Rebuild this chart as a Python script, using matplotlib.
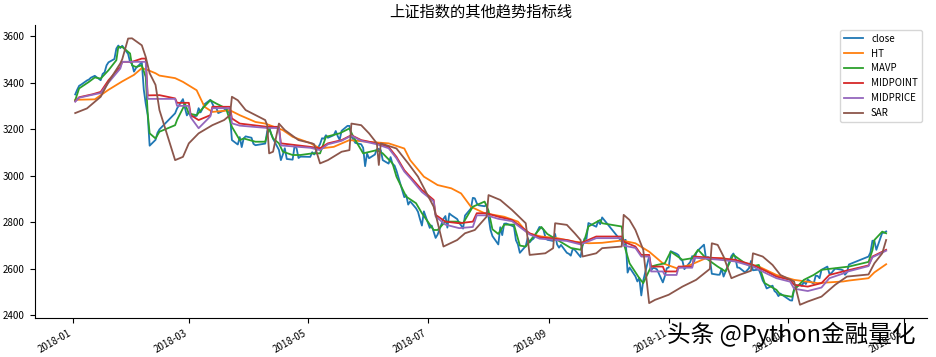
import pandas as pd
import matplotlib
matplotlib.use('Agg')
import matplotlib.pyplot as plt
import matplotlib.dates as mdates

plt.rcParams['font.family'] = ['Noto Sans CJK SC', 'DejaVu Sans']
plt.rcParams['axes.unicode_minus'] = False

# trading days of the Shanghai exchange, 2018-01-02 .. 2019-02-20
holidays = ['2018-02-15', '2018-02-16', '2018-02-19', '2018-02-20', '2018-02-21',
            '2018-04-05', '2018-04-06', '2018-04-30', '2018-05-01', '2018-06-18',
            '2018-09-24', '2018-10-01', '2018-10-02', '2018-10-03', '2018-10-04',
            '2018-10-05', '2018-12-31', '2019-01-01', '2019-02-04', '2019-02-05',
            '2019-02-06', '2019-02-07', '2019-02-08']

close = [
    # 2018-01
    3349, 3369, 3386, 3391, 3409, 3413, 3421, 3425, 3429, 3410, 3437, 3444, 3474, 3487,
    3501, 3546, 3559, 3548, 3558, 3523, 3488, 3481,
    # 2018-02
    3447, 3462, 3487, 3370, 3309, 3262, 3129, 3154, 3184, 3199, 3268, 3289, 3329, 3292, 3259,
    # 2018-03
    3273, 3254, 3257, 3290, 3272, 3288, 3307, 3326, 3310, 3291, 3292, 3269, 3280, 3290,
    3281, 3263, 3153, 3134, 3166, 3123, 3160, 3169,
    # 2018-04
    3163, 3137, 3131, 3138, 3190, 3208, 3180, 3159, 3111, 3067, 3091, 3118, 3072, 3069,
    3129, 3118, 3076, 3082,
    # 2018-05
    3081, 3101, 3091, 3136, 3161, 3159, 3174, 3163, 3174, 3192, 3170, 3154, 3193, 3214,
    3214, 3169, 3155, 3141, 3135, 3120, 3041, 3095,
    # 2018-06
    3075, 3091, 3114, 3115, 3110, 3067, 3052, 3080, 3050, 3044, 3022, 2908, 2916, 2876,
    2890, 2860, 2845, 2814, 2786, 2847,
    # 2018-07
    2776, 2786, 2759, 2733, 2747, 2815, 2827, 2777, 2838, 2831, 2814, 2798, 2787, 2773,
    2829, 2859, 2905, 2903, 2882, 2873, 2869, 2876,
    # 2018-08
    2824, 2768, 2741, 2705, 2779, 2745, 2794, 2795, 2785, 2781, 2723, 2705, 2669, 2698,
    2733, 2714, 2724, 2730, 2780, 2777, 2769, 2737, 2725,
    # 2018-09
    2720, 2750, 2705, 2691, 2703, 2669, 2665, 2657, 2686, 2682, 2651, 2700, 2730, 2729,
    2797, 2781, 2806, 2792, 2821,
    # 2018-10
    2717, 2721, 2725, 2584, 2606, 2568, 2546, 2562, 2486, 2550, 2654, 2594, 2604, 2603,
    2598, 2542, 2568, 2603,
    # 2018-11
    2606, 2676, 2665, 2659, 2641, 2635, 2599, 2630, 2655, 2632, 2668, 2680, 2704, 2646,
    2651, 2646, 2579, 2575, 2575, 2601, 2567, 2588,
    # 2018-12
    2655, 2666, 2649, 2606, 2605, 2585, 2594, 2603, 2634, 2594, 2597, 2576, 2550, 2536,
    2516, 2528, 2505, 2498, 2483, 2494,
    # 2019-01
    2465, 2464, 2515, 2534, 2527, 2545, 2535, 2554, 2536, 2570, 2570, 2560, 2596, 2610,
    2580, 2581, 2592, 2601, 2597, 2594, 2575, 2585,
    # 2019-02
    2619, 2653, 2671, 2721, 2720, 2682, 2755, 2755, 2761,
]

ht_dates = ['2018-01-02', '2018-01-12', '2018-01-19', '2018-01-26', '2018-02-01', '2018-02-05',
            '2018-02-08', '2018-02-12', '2018-02-14', '2018-02-22', '2018-02-26', '2018-03-05',
            '2018-03-09', '2018-03-13', '2018-03-22', '2018-03-27', '2018-04-04', '2018-04-09',
            '2018-04-18', '2018-04-23', '2018-05-02', '2018-05-07', '2018-05-14', '2018-05-22',
            '2018-05-31', '2018-06-11', '2018-06-19', '2018-06-22', '2018-06-29', '2018-07-06',
            '2018-07-13', '2018-07-18', '2018-07-23', '2018-07-30', '2018-08-09', '2018-08-16',
            '2018-08-21', '2018-08-28', '2018-09-05', '2018-09-14', '2018-09-21', '2018-09-28',
            '2018-10-08', '2018-10-15', '2018-10-22', '2018-10-29', '2018-11-05', '2018-11-12',
            '2018-11-20', '2018-11-29', '2018-12-10', '2018-12-17', '2018-12-26', '2019-01-04',
            '2019-01-16', '2019-01-29', '2019-02-01', '2019-02-11', '2019-02-14', '2019-02-20']
ht = [3326, 3328, 3369, 3405, 3433, 3462, 3454, 3440, 3430, 3419, 3403, 3367,
      3296, 3274, 3281, 3260, 3231, 3224, 3196, 3167, 3140, 3117, 3124, 3153,
      3146, 3139, 3117, 3067, 2996, 2960, 2946, 2924, 2867, 2839, 2824, 2803,
      2753, 2739, 2732, 2717, 2710, 2712, 2722, 2710, 2674, 2624, 2603, 2617,
      2646, 2646, 2624, 2610, 2574, 2553, 2539, 2546, 2550, 2560, 2585, 2620]

mavp_dates = ['2018-01-02', '2018-01-04', '2018-01-09', '2018-01-12', '2018-01-15', '2018-01-19',
              '2018-01-23', '2018-01-24', '2018-01-26', '2018-01-30', '2018-01-31', '2018-02-02',
              '2018-02-05', '2018-02-07', '2018-02-08', '2018-02-09', '2018-02-12', '2018-02-14',
              '2018-02-22', '2018-02-23', '2018-02-26', '2018-02-27', '2018-03-01', '2018-03-05',
              '2018-03-08', '2018-03-12', '2018-03-15', '2018-03-20', '2018-03-23', '2018-03-27',
              '2018-03-29', '2018-04-04', '2018-04-09', '2018-04-11', '2018-04-13', '2018-04-16',
              '2018-04-18', '2018-04-23', '2018-04-27', '2018-05-03', '2018-05-07', '2018-05-10',
              '2018-05-17', '2018-05-22', '2018-05-24', '2018-05-29', '2018-06-05', '2018-06-08',
              '2018-06-13', '2018-06-15', '2018-06-20', '2018-06-25', '2018-06-28', '2018-07-04',
              '2018-07-06', '2018-07-10', '2018-07-16', '2018-07-19', '2018-07-24', '2018-07-30',
              '2018-08-01', '2018-08-03', '2018-08-06', '2018-08-09', '2018-08-14', '2018-08-17',
              '2018-08-20', '2018-08-24', '2018-08-28', '2018-08-31', '2018-09-05', '2018-09-12',
              '2018-09-17', '2018-09-19', '2018-09-21', '2018-09-27', '2018-09-28', '2018-10-08',
              '2018-10-09', '2018-10-12', '2018-10-17', '2018-10-19', '2018-10-23', '2018-10-26',
              '2018-10-30', '2018-11-02', '2018-11-08', '2018-11-13', '2018-11-16', '2018-11-20',
              '2018-11-26', '2018-11-30', '2018-12-04', '2018-12-10', '2018-12-13', '2018-12-17',
              '2018-12-20', '2018-12-26', '2018-12-28', '2019-01-03', '2019-01-04', '2019-01-09',
              '2019-01-14', '2019-01-18', '2019-01-25', '2019-02-01', '2019-02-11', '2019-02-13',
              '2019-02-14', '2019-02-18', '2019-02-20']
mavp = [3324, 3375, 3403, 3422, 3417, 3453, 3496, 3553, 3553, 3525, 3474, 3467,
        3474, 3424, 3267, 3182, 3160, 3189, 3217, 3240, 3290, 3310, 3267, 3260,
        3289, 3324, 3310, 3289, 3210, 3153, 3160, 3146, 3146, 3203, 3160, 3139,
        3103, 3089, 3089, 3096, 3096, 3167, 3182, 3203, 3167, 3096, 3110, 3096,
        3053, 2996, 2910, 2882, 2839, 2767, 2767, 2803, 2803, 2796, 2867, 2889,
        2850, 2770, 2750, 2790, 2790, 2700, 2696, 2740, 2780, 2750, 2725, 2690,
        2682, 2724, 2782, 2810, 2796, 2782, 2710, 2624, 2560, 2539, 2610, 2617,
        2624, 2674, 2639, 2646, 2682, 2646, 2610, 2589, 2660, 2624, 2610, 2617,
        2539, 2510, 2489, 2480, 2510, 2553, 2574, 2596, 2603, 2610, 2630, 2680,
        2724, 2760, 2753]

midpoint_dates = ['2018-01-02', '2018-01-04', '2018-01-11', '2018-01-15', '2018-01-19', '2018-01-25',
                  '2018-01-26', '2018-01-31', '2018-02-05', '2018-02-07', '2018-02-08', '2018-02-14',
                  '2018-02-22', '2018-02-23', '2018-03-01', '2018-03-02', '2018-03-06', '2018-03-12',
                  '2018-03-13', '2018-03-22', '2018-03-23', '2018-03-27', '2018-04-10', '2018-04-16',
                  '2018-04-17', '2018-05-02', '2018-05-07', '2018-05-11', '2018-05-18', '2018-05-23',
                  '2018-05-28', '2018-06-05', '2018-06-11', '2018-06-15', '2018-06-19', '2018-06-22',
                  '2018-06-28', '2018-07-04', '2018-07-05', '2018-07-10', '2018-07-17', '2018-07-24',
                  '2018-07-26', '2018-07-31', '2018-08-06', '2018-08-13', '2018-08-22', '2018-08-27',
                  '2018-09-10', '2018-09-17', '2018-09-25', '2018-10-08', '2018-10-09', '2018-10-15',
                  '2018-10-18', '2018-10-22', '2018-10-23', '2018-10-29', '2018-10-30', '2018-11-05',
                  '2018-11-06', '2018-11-13', '2018-11-14', '2018-11-26', '2018-12-05', '2018-12-14',
                  '2018-12-21', '2018-12-26', '2019-01-02', '2019-01-04', '2019-01-11', '2019-01-18',
                  '2019-01-22', '2019-01-29', '2019-02-01', '2019-02-11', '2019-02-13', '2019-02-20']
midpoint = [3320, 3337, 3350, 3360, 3410, 3467, 3489, 3489, 3503, 3503, 3345, 3346,
            3332, 3313, 3313, 3260, 3239, 3260, 3296, 3296, 3246, 3224, 3210, 3210,
            3139, 3124, 3118, 3139, 3153, 3174, 3153, 3139, 3124, 3081, 3024, 2996,
            2939, 2896, 2832, 2803, 2796, 2803, 2839, 2839, 2824, 2810, 2753, 2736,
            2724, 2710, 2739, 2739, 2717, 2696, 2660, 2660, 2610, 2610, 2589, 2589,
            2610, 2610, 2653, 2646, 2639, 2617, 2589, 2567, 2553, 2532, 2524, 2539,
            2574, 2589, 2595, 2615, 2653, 2682]

midprice_dates = midpoint_dates
midprice = [3318, 3335, 3348, 3355, 3400, 3460, 3489, 3489, 3489, 3489, 3330, 3330,
            3330, 3300, 3300, 3250, 3204, 3255, 3290, 3290, 3225, 3215, 3205, 3205,
            3130, 3120, 3110, 3135, 3150, 3172, 3150, 3135, 3118, 3075, 3018, 2990,
            2930, 2890, 2825, 2790, 2775, 2780, 2830, 2830, 2815, 2805, 2748, 2730,
            2720, 2705, 2732, 2732, 2700, 2690, 2653, 2653, 2589, 2589, 2574, 2574,
            2605, 2605, 2648, 2640, 2632, 2610, 2580, 2560, 2545, 2515, 2505, 2520,
            2560, 2580, 2590, 2612, 2650, 2678]

sar_dates = ['2018-01-02', '2018-01-08', '2018-01-15', '2018-01-19', '2018-01-25', '2018-01-26',
             '2018-01-29', '2018-01-31', '2018-02-05', '2018-02-07', '2018-02-09', '2018-02-12',
             '2018-02-14', '2018-02-22', '2018-02-26', '2018-03-01', '2018-03-06', '2018-03-13',
             '2018-03-19', '2018-03-22', '2018-03-23', '2018-03-26', '2018-03-30', '2018-04-09',
             '2018-04-10', '2018-04-11', '2018-04-13', '2018-04-16', '2018-04-19', '2018-04-26',
             '2018-05-03', '2018-05-04', '2018-05-07', '2018-05-11', '2018-05-18', '2018-05-22',
             '2018-05-23', '2018-05-28', '2018-06-01', '2018-06-05', '2018-06-06', '2018-06-07',
             '2018-06-15', '2018-06-21', '2018-06-26', '2018-07-04', '2018-07-06', '2018-07-09',
             '2018-07-16', '2018-07-20', '2018-07-25', '2018-07-31', '2018-08-01', '2018-08-07',
             '2018-08-13', '2018-08-20', '2018-08-22', '2018-08-30', '2018-09-03', '2018-09-04',
             '2018-09-10', '2018-09-14', '2018-09-17', '2018-09-18', '2018-09-25', '2018-09-28',
             '2018-10-08', '2018-10-09', '2018-10-12', '2018-10-15', '2018-10-19', '2018-10-22',
             '2018-10-25', '2018-11-01', '2018-11-08', '2018-11-15', '2018-11-22', '2018-11-23',
             '2018-11-26', '2018-11-29', '2018-12-03', '2018-12-07', '2018-12-13', '2018-12-14',
             '2018-12-19', '2018-12-24', '2018-12-28', '2019-01-04', '2019-01-07', '2019-01-11',
             '2019-01-18', '2019-01-25', '2019-01-31', '2019-02-11', '2019-02-14', '2019-02-18',
             '2019-02-20']
sar = [3269, 3289, 3339, 3403, 3482, 3500, 3589, 3590, 3560, 3510, 3440, 3390,
       3282, 3067, 3081, 3139, 3182, 3217, 3239, 3260, 3339, 3324, 3282, 3239,
       3217, 3096, 3103, 3224, 3196, 3153, 3139, 3135, 3053, 3067, 3103, 3110,
       3224, 3217, 3182, 3139, 3046, 3139, 3117, 3053, 2996, 2867, 2800, 2696,
       2724, 2753, 2767, 2824, 2917, 2896, 2853, 2796, 2660, 2667, 2689, 2796,
       2789, 2753, 2724, 2653, 2667, 2689, 2696, 2832, 2810, 2767, 2682, 2453,
       2467, 2489, 2524, 2553, 2600, 2710, 2703, 2653, 2560, 2574, 2592, 2667,
       2653, 2617, 2574, 2546, 2446, 2460, 2481, 2532, 2567, 2576, 2624, 2667,
       2724]

days = pd.bdate_range('2018-01-02', '2019-02-20')
days = days[~days.isin(pd.to_datetime(holidays))]

fig, ax = plt.subplots(figsize=(9.37, 3.57), dpi=100)
fig.subplots_adjust(left=0.037, right=0.989, top=0.93, bottom=0.109)

lw = 1.3
ax.plot(days, close, lw=lw, label='close')
ax.plot(pd.to_datetime(ht_dates), ht, lw=lw, label='HT')
ax.plot(pd.to_datetime(mavp_dates), mavp, lw=lw, label='MAVP')
ax.plot(pd.to_datetime(midpoint_dates), midpoint, lw=lw, label='MIDPOINT')
ax.plot(pd.to_datetime(midprice_dates), midprice, lw=lw, label='MIDPRICE')
ax.plot(pd.to_datetime(sar_dates), sar, lw=lw, label='SAR')

ax.set_title('上证指数的其他趋势指标线', fontsize=11)
ax.xaxis.set_major_locator(mdates.MonthLocator(bymonth=[1, 3, 5, 7, 9, 11]))
ax.xaxis.set_major_formatter(mdates.DateFormatter('%Y-%m'))
ax.tick_params(labelsize=7)
plt.setp(ax.get_xticklabels(), rotation=30, ha='right')
ax.spines['top'].set_visible(False)
ax.spines['right'].set_visible(False)
ax.legend(loc='upper right', fontsize=7)

fig.text(0.712, 0.062, '头条 @Python金融量化', fontsize=17, va='center')

fig.savefig('out.png')
